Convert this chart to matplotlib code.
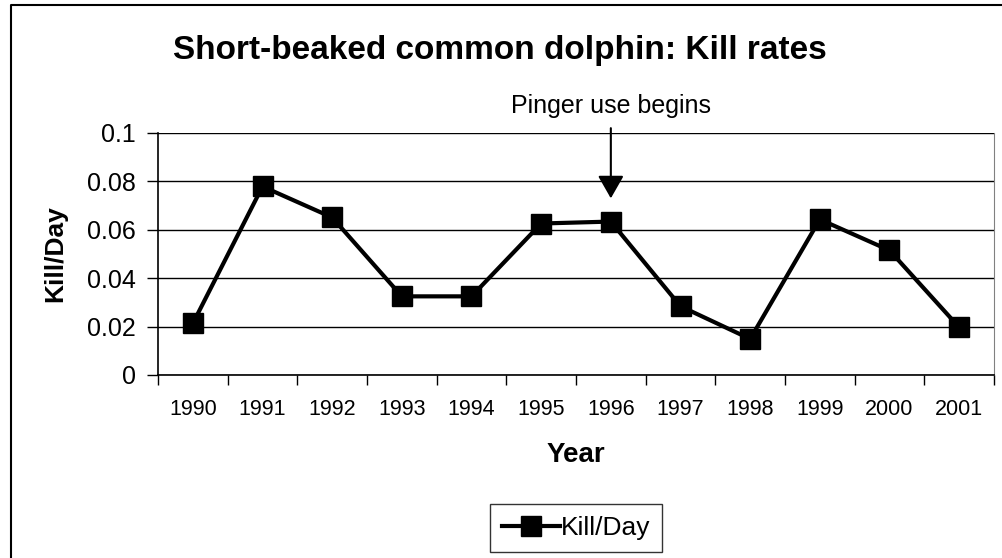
import matplotlib.pyplot as plt
import numpy as np

plt.rcParams["font.family"] = ["Liberation Sans", "DejaVu Sans"]

years = ["1990", "1991", "1992", "1993", "1994", "1995",
         "1996", "1997", "1998", "1999", "2000", "2001"]
kill_per_day = [0.0213, 0.0779, 0.0651, 0.0325, 0.0325, 0.0626,
                0.0634, 0.0284, 0.0149, 0.0643, 0.0515, 0.0197]
yticks = [0, 0.02, 0.04, 0.06, 0.08, 0.1]
ytick_labels = ["0", "0.02", "0.04", "0.06", "0.08", "0.1"]
pinger_year = "1996"

W, H = 1002, 558
fig = plt.figure(figsize=(W / 100, H / 100), dpi=100)
ax = fig.add_axes([158 / W, 1 - 375 / H, (994 - 158) / W, (375 - 133) / H])

x = np.arange(len(years))
ax.plot(x, kill_per_day, color="black", lw=3, marker="s", ms=15,
        mfc="black", mec="black", label="Kill/Day", zorder=3)

ax.set_xlim(-0.5, len(years) - 0.5)
ax.set_ylim(0, 0.1)
ax.set_yticks(yticks)
ax.set_yticklabels(ytick_labels, fontsize=18)
ax.set_xticks(x)
ax.set_xticklabels(years, fontsize=15.5)
ax.tick_params(axis="x", length=0, pad=17)
ax.set_xticks(np.arange(len(years) + 1) - 0.5, minor=True)
ax.tick_params(axis="x", which="minor", length=7, width=1, direction="out")
ax.tick_params(axis="y", length=8, width=1, direction="out", pad=8)
ax.yaxis.grid(True, color="black", lw=1)
ax.set_axisbelow(True)
for side in ["left", "bottom"]:
    ax.spines[side].set_linewidth(1.2)
ax.spines["top"].set_visible(False)
ax.spines["right"].set_color("#808080")

ax.set_ylabel("Kill/Day", fontsize=19, fontweight="bold", labelpad=14)
ax.set_xlabel("Year", fontsize=20, fontweight="bold", labelpad=16)

fig.text(500 / W, 1 - 50 / H, "Short-beaked common dolphin: Kill rates",
         fontsize=24, fontweight="bold", ha="center", va="center")

# arrow marking when pingers were introduced
xi = years.index(pinger_year)
ax.text(xi, 0.1112, "Pinger use begins", ha="center", va="center", fontsize=18)
ax.annotate("", xy=(xi, 0.073), xytext=(xi, 0.102),
            arrowprops=dict(arrowstyle="-|>,head_width=0.8,head_length=1.4",
                            mutation_scale=10, color="black", lw=1.5,
                            shrinkA=0, shrinkB=0))

leg = fig.legend(loc="center", bbox_to_anchor=(576 / W, 1 - 528 / H),
                 fontsize=19, frameon=True, fancybox=False, handlelength=2.2,
                 handletextpad=0.05, borderpad=0.45, borderaxespad=0)
leg.get_frame().set_edgecolor("black")
leg.get_frame().set_linewidth(1)

# chart border along the top and left edges
fig.add_artist(plt.Line2D([11 / W, 11 / W, 1], [0, 1 - 5 / H, 1 - 5 / H],
                          transform=fig.transFigure, color="black", lw=1.5))

fig.savefig("out.png", dpi=100)
